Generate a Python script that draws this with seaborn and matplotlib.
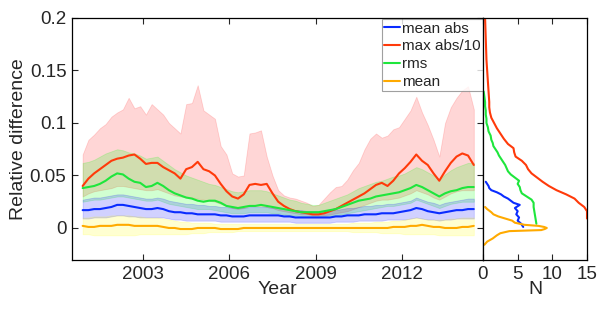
import numpy as np
import pandas as pd
import matplotlib
matplotlib.use("Agg")
import matplotlib.pyplot as plt
from matplotlib.ticker import FuncFormatter
import seaborn as sns

# ---------------- data ----------------
years = np.round(2000.9 + 0.2 * np.arange(69), 2)

mean_abs = [0.017, 0.017, 0.018, 0.018, 0.019, 0.020,
            0.022, 0.022, 0.021, 0.020,
            0.019, 0.018, 0.018, 0.019, 0.018, 0.016,
            0.015, 0.015, 0.014, 0.014, 0.013,
            0.013, 0.013, 0.013, 0.012, 0.012,
            0.011, 0.011, 0.011, 0.012, 0.012,
            0.012, 0.012, 0.012, 0.012, 0.011,
            0.011, 0.010, 0.010, 0.010, 0.010,
            0.010, 0.010, 0.010, 0.011, 0.011,
            0.012, 0.012, 0.012, 0.013, 0.013,
            0.013, 0.014, 0.014, 0.014, 0.015,
            0.016, 0.017, 0.019, 0.018, 0.016,
            0.015, 0.014, 0.015, 0.016, 0.017,
            0.017, 0.018, 0.018]

max_abs10 = [0.040, 0.047, 0.052, 0.056, 0.060, 0.064,
             0.066, 0.067, 0.069, 0.070,
             0.066, 0.061, 0.062, 0.062, 0.058, 0.055,
             0.052, 0.047, 0.056, 0.058, 0.063,
             0.056, 0.054, 0.050, 0.042, 0.035,
             0.030, 0.028, 0.032, 0.041, 0.042,
             0.041, 0.042, 0.033, 0.025, 0.021,
             0.018, 0.016, 0.015, 0.014, 0.013,
             0.013, 0.014, 0.016, 0.018, 0.021,
             0.024, 0.027, 0.030, 0.033, 0.037,
             0.041, 0.043, 0.040, 0.045, 0.052,
             0.057, 0.063, 0.070, 0.064, 0.060,
             0.052, 0.045, 0.054, 0.062, 0.068,
             0.071, 0.069, 0.060]

rms = [0.038, 0.039, 0.040, 0.042, 0.045, 0.049,
       0.052, 0.051, 0.047, 0.044,
       0.043, 0.039, 0.040, 0.043, 0.040, 0.036,
       0.033, 0.031, 0.029, 0.028, 0.026,
       0.025, 0.026, 0.026, 0.024, 0.021,
       0.020, 0.019, 0.020, 0.021, 0.021,
       0.022, 0.021, 0.020, 0.019, 0.018,
       0.017, 0.016, 0.015, 0.015, 0.015,
       0.015, 0.016, 0.017, 0.018, 0.020,
       0.022, 0.024, 0.026, 0.027, 0.028,
       0.030, 0.031, 0.032, 0.033, 0.034,
       0.036, 0.038, 0.041, 0.039, 0.036,
       0.033, 0.030, 0.033, 0.035, 0.036,
       0.038, 0.039, 0.039]

mean = [0.002, 0.001, 0.001, 0.002, 0.002, 0.002,
        0.003, 0.003, 0.003, 0.002,
        0.002, 0.002, 0.002, 0.002, 0.001, 0.000,
        0.000, -0.001, -0.001, -0.001, 0.000,
        0.000, 0.000, 0.000, -0.001, -0.001,
        -0.001, -0.001, 0.000, 0.000, 0.000,
        0.000, 0.000, 0.000, 0.000, 0.000,
        0.000, 0.000, 0.000, 0.000, 0.000,
        0.000, 0.000, 0.000, 0.000, 0.000,
        0.000, 0.000, 0.000, 0.000, 0.000,
        0.000, 0.000, 0.000, 0.001, 0.001,
        0.001, 0.002, 0.002, 0.003, 0.002,
        0.001, 0.001, 0.000, 0.000, 0.000,
        0.001, 0.001, 0.002]

# shaded ranges
max_abs10_hi = [0.070, 0.084, 0.089, 0.095, 0.099, 0.106,
                0.110, 0.113, 0.124, 0.114,
                0.116, 0.108, 0.118, 0.113, 0.108, 0.100,
                0.095, 0.090, 0.118, 0.119, 0.136,
                0.112, 0.108, 0.104, 0.078, 0.070,
                0.052, 0.049, 0.050, 0.090, 0.091,
                0.093, 0.068, 0.050, 0.036, 0.031,
                0.029, 0.028, 0.026, 0.024, 0.021,
                0.022, 0.028, 0.034, 0.039, 0.040,
                0.046, 0.055, 0.062, 0.075, 0.085,
                0.090, 0.086, 0.088, 0.094, 0.096,
                0.104, 0.112, 0.125, 0.110, 0.098,
                0.084, 0.068, 0.100, 0.115, 0.124,
                0.131, 0.135, 0.113]
max_abs10_lo = [0.030, 0.033, 0.035, 0.036, 0.037, 0.038,
                0.040, 0.040, 0.039, 0.038,
                0.037, 0.036, 0.036, 0.037, 0.035, 0.033,
                0.031, 0.030, 0.029, 0.029, 0.028,
                0.027, 0.026, 0.025, 0.023, 0.021,
                0.019, 0.018, 0.019, 0.021, 0.021,
                0.021, 0.020, 0.019, 0.017, 0.016,
                0.015, 0.014, 0.013, 0.013, 0.012,
                0.012, 0.012, 0.013, 0.014, 0.015,
                0.016, 0.018, 0.020, 0.022, 0.024,
                0.026, 0.027, 0.027, 0.028, 0.029,
                0.031, 0.033, 0.036, 0.034, 0.032,
                0.029, 0.027, 0.030, 0.033, 0.035,
                0.036, 0.036, 0.036]
rms_hi = [0.062, 0.063, 0.065, 0.068, 0.071, 0.073,
          0.075, 0.074, 0.072, 0.071,
          0.069, 0.066, 0.067, 0.068, 0.064, 0.060,
          0.056, 0.053, 0.050, 0.048, 0.046,
          0.044, 0.042, 0.041, 0.039, 0.037,
          0.035, 0.034, 0.035, 0.036, 0.036,
          0.036, 0.035, 0.033, 0.031, 0.029,
          0.027, 0.026, 0.024, 0.023, 0.022,
          0.022, 0.024, 0.026, 0.028, 0.030,
          0.032, 0.035, 0.038, 0.040, 0.042,
          0.044, 0.045, 0.047, 0.049, 0.050,
          0.052, 0.055, 0.058, 0.056, 0.053,
          0.050, 0.046, 0.051, 0.055, 0.058,
          0.060, 0.062, 0.062]
rms_lo = [0.025, 0.026, 0.027, 0.027, 0.028, 0.029,
          0.030, 0.030, 0.029, 0.028,
          0.027, 0.026, 0.026, 0.027, 0.025, 0.023,
          0.022, 0.021, 0.020, 0.019, 0.018,
          0.018, 0.018, 0.017, 0.016, 0.015,
          0.014, 0.014, 0.014, 0.015, 0.015,
          0.015, 0.015, 0.014, 0.014, 0.013,
          0.012, 0.012, 0.011, 0.011, 0.011,
          0.011, 0.011, 0.012, 0.012, 0.013,
          0.014, 0.015, 0.016, 0.017, 0.018,
          0.019, 0.020, 0.021, 0.021, 0.022,
          0.023, 0.024, 0.027, 0.025, 0.023,
          0.021, 0.019, 0.021, 0.023, 0.024,
          0.025, 0.025, 0.025]
mean_abs_hi = [0.027, 0.028, 0.029, 0.029, 0.030, 0.031,
               0.032, 0.032, 0.031, 0.030,
               0.029, 0.028, 0.028, 0.029, 0.028, 0.026,
               0.025, 0.024, 0.023, 0.023, 0.022,
               0.022, 0.021, 0.021, 0.020, 0.020,
               0.019, 0.019, 0.019, 0.020, 0.020,
               0.020, 0.020, 0.019, 0.019, 0.018,
               0.018, 0.017, 0.017, 0.016, 0.016,
               0.016, 0.016, 0.017, 0.017, 0.018,
               0.019, 0.019, 0.020, 0.021, 0.021,
               0.022, 0.022, 0.023, 0.023, 0.024,
               0.025, 0.026, 0.029, 0.027, 0.025,
               0.024, 0.022, 0.024, 0.025, 0.026,
               0.027, 0.028, 0.028]
mean_abs_lo = [0.009, 0.009, 0.010, 0.010, 0.010, 0.011,
               0.012, 0.012, 0.011, 0.011,
               0.010, 0.010, 0.010, 0.010, 0.010, 0.009,
               0.008, 0.008, 0.007, 0.007, 0.007,
               0.007, 0.007, 0.007, 0.006, 0.006,
               0.006, 0.006, 0.006, 0.006, 0.006,
               0.006, 0.006, 0.006, 0.006, 0.006,
               0.006, 0.005, 0.005, 0.005, 0.005,
               0.005, 0.005, 0.005, 0.006, 0.006,
               0.006, 0.006, 0.007, 0.007, 0.007,
               0.007, 0.007, 0.008, 0.008, 0.008,
               0.008, 0.009, 0.010, 0.009, 0.008,
               0.008, 0.007, 0.008, 0.008, 0.009,
               0.009, 0.009, 0.009]
mean_hi = [0.010, 0.010, 0.011, 0.011, 0.011, 0.012,
           0.012, 0.012, 0.012, 0.011,
           0.011, 0.010, 0.010, 0.010, 0.009, 0.008,
           0.007, 0.006, 0.006, 0.005, 0.005,
           0.005, 0.005, 0.004, 0.004, 0.004,
           0.004, 0.004, 0.004, 0.004, 0.004,
           0.004, 0.004, 0.004, 0.004, 0.004,
           0.004, 0.004, 0.004, 0.004, 0.004,
           0.004, 0.004, 0.004, 0.004, 0.004,
           0.004, 0.005, 0.005, 0.005, 0.005,
           0.006, 0.006, 0.006, 0.007, 0.007,
           0.008, 0.009, 0.010, 0.009, 0.008,
           0.008, 0.008, 0.008, 0.009, 0.009,
           0.010, 0.010, 0.010]
mean_lo = [-0.006, -0.006, -0.007, -0.007, -0.007, -0.007,
           -0.007, -0.007, -0.007, -0.007,
           -0.006, -0.006, -0.006, -0.006, -0.006, -0.006,
           -0.006, -0.006, -0.006, -0.005, -0.005,
           -0.005, -0.004, -0.004, -0.004, -0.004,
           -0.004, -0.003, -0.003, -0.003, -0.003,
           -0.003, -0.003, -0.003, -0.003, -0.003,
           -0.003, -0.003, -0.003, -0.003, -0.003,
           -0.003, -0.003, -0.003, -0.003, -0.003,
           -0.003, -0.004, -0.004, -0.004, -0.004,
           -0.004, -0.005, -0.005, -0.005, -0.005,
           -0.006, -0.006, -0.006, -0.006, -0.006,
           -0.006, -0.007, -0.007, -0.007, -0.007,
           -0.007, -0.007, -0.007]

# histograms (value, count N)
h_maxabs_val = [0.009, 0.012, 0.016, 0.020, 0.024, 0.028, 0.032, 0.036, 0.040, 0.044,
                0.048, 0.052, 0.056, 0.060, 0.064, 0.068, 0.072, 0.076, 0.080, 0.085,
                0.090, 0.095, 0.100, 0.105, 0.110, 0.115, 0.120, 0.130, 0.140, 0.150,
                0.160, 0.170, 0.180, 0.190, 0.200]
h_maxabs_n = [15.0, 15.0, 15.0, 14.6, 13.8, 13.2, 12.0, 10.6, 9.5, 8.6,
              7.8, 7.0, 6.5, 6.2, 5.6, 4.7, 4.5, 4.4, 3.6, 3.0,
              2.5, 2.0, 1.6, 1.2, 1.0, 0.9, 0.9, 0.8, 0.7, 0.6,
              0.5, 0.45, 0.4, 0.35, 0.3]
h_rms_val = [0.004, 0.008, 0.012, 0.016, 0.020, 0.024, 0.027, 0.030, 0.033, 0.036,
             0.039, 0.042, 0.045, 0.048, 0.051, 0.054, 0.057, 0.060, 0.063, 0.066,
             0.069, 0.072, 0.075, 0.078, 0.081, 0.084, 0.088, 0.092, 0.096, 0.100,
             0.104, 0.108, 0.112, 0.116, 0.120, 0.125, 0.130]
h_rms_n = [7.7, 7.6, 7.5, 7.4, 7.3, 7.3, 7.0, 6.3, 5.6, 5.4,
           5.3, 5.0, 5.2, 4.6, 4.0, 3.6, 3.4, 3.2, 2.9, 2.6,
           2.3, 2.1, 1.8, 1.5, 1.4, 1.2, 1.1, 0.8, 0.7, 0.5,
           0.5, 0.4, 0.4, 0.3, 0.3, 0.2, 0.1]
h_mabs_val = [0.001, 0.004, 0.007, 0.010, 0.013, 0.016, 0.019, 0.022, 0.024, 0.026,
              0.028, 0.030, 0.032, 0.034, 0.036, 0.038, 0.040, 0.042, 0.044]
h_mabs_n = [5.8, 5.5, 5.0, 5.2, 4.8, 5.0, 4.6, 5.3, 4.4, 4.0,
            3.6, 3.0, 2.6, 2.0, 1.2, 0.9, 0.8, 0.6, 0.4]
h_mean_val = [-0.016, -0.013, -0.010, -0.007, -0.005, -0.003, -0.002, -0.001, 0.000, 0.001,
              0.002, 0.003, 0.005, 0.007, 0.009, 0.011, 0.013, 0.015, 0.018, 0.020]
h_mean_n = [0.2, 0.6, 1.4, 2.0, 2.5, 3.8, 8.4, 8.9, 9.2, 8.8,
            8.0, 6.0, 4.6, 4.2, 3.2, 2.2, 1.5, 1.2, 0.6, 0.3]

labels = ["mean abs", "max abs/10", "rms", "mean"]
line_colors = ["#0a2cff", "#ff3a0a", "#1ee63c", "#ffaa00"]
fill_colors = ["#0000ff", "#ff2020", "#00ff00", "#ffff00"]

# ---------------- styling ----------------
sns.set_style("ticks")
plt.rcParams["font.family"] = ["Liberation Sans", "DejaVu Sans"]
plt.rcParams["xtick.direction"] = "in"
plt.rcParams["ytick.direction"] = "in"

fig = plt.figure(figsize=(6.06, 3.09), dpi=100)
ax = fig.add_axes([72 / 606, 1 - 260 / 309, (483 - 72) / 606, (260 - 18) / 309])
axh = fig.add_axes([483 / 606, 1 - 260 / 309, (587 - 483) / 606, (260 - 18) / 309], sharey=ax)

series = [mean_abs, max_abs10, rms, mean]
lows = [mean_abs_lo, max_abs10_lo, rms_lo, mean_lo]
highs = [mean_abs_hi, max_abs10_hi, rms_hi, mean_hi]

# bands (red first so others overlay)
for i in [1, 2, 0, 3]:
    ax.fill_between(years, lows[i], highs[i], color=fill_colors[i], alpha=0.18,
                    linewidth=0.6, edgecolor=fill_colors[i])

df = pd.concat([pd.DataFrame({"Year": years, "val": s, "series": lab})
                for s, lab in zip(series, labels)], ignore_index=True)
sns.lineplot(data=df, x="Year", y="val", hue="series", hue_order=labels,
             palette=line_colors, estimator=None, linewidth=1.5, ax=ax, legend=False)

handles = [plt.Line2D([], [], color=c, lw=1.5) for c in line_colors]
leg = ax.legend(handles, labels, loc="upper right", bbox_to_anchor=(1.0, 0.995),
                borderaxespad=0.0, fontsize=11, frameon=True, fancybox=False,
                handlelength=1.05, handletextpad=0.12, labelspacing=0.25,
                borderpad=0.15)
leg.get_frame().set_edgecolor("#888888")
leg.get_frame().set_linewidth(0.8)

ax.set_xlim(2000.53, 2014.82)
ax.set_ylim(-0.0305, 0.2)
ax.set_xticks([2003, 2006, 2009, 2012])
ax.set_yticks([0, 0.05, 0.1, 0.15, 0.2])
ax.yaxis.set_major_formatter(FuncFormatter(lambda v, p: "%g" % round(v, 3)))
ax.tick_params(axis="both", which="both", direction="in", length=4, width=0.8,
               labelsize=13.5, top=True, right=True, pad=4)
ax.set_xlabel("Year", fontsize=14, labelpad=-1)
ax.set_ylabel("Relative difference", fontsize=14, labelpad=2)

# histogram panel
hist_sets = [(h_mabs_n, h_mabs_val), (h_maxabs_n, h_maxabs_val),
             (h_rms_n, h_rms_val), (h_mean_n, h_mean_val)]
for (n, v), c in zip(hist_sets, line_colors):
    sns.lineplot(x=n, y=v, sort=False, estimator=None, orient="y", color=c,
                 linewidth=1.5, ax=axh)
axh.set_xlim(0, 15)
axh.set_xticks([0, 5, 10, 15])
axh.tick_params(axis="x", direction="in", length=4, width=0.8, labelsize=13.5,
                top=True, pad=4)
axh.tick_params(axis="y", which="both", left=False, right=False, labelleft=False)
axh.set_xlabel("N", fontsize=14, labelpad=-1)
axh.set_ylabel("")

for a in (ax, axh):
    for sp in a.spines.values():
        sp.set_visible(True)
        sp.set_linewidth(0.9)
        sp.set_color("black")

fig.savefig("out.png", dpi=100)
